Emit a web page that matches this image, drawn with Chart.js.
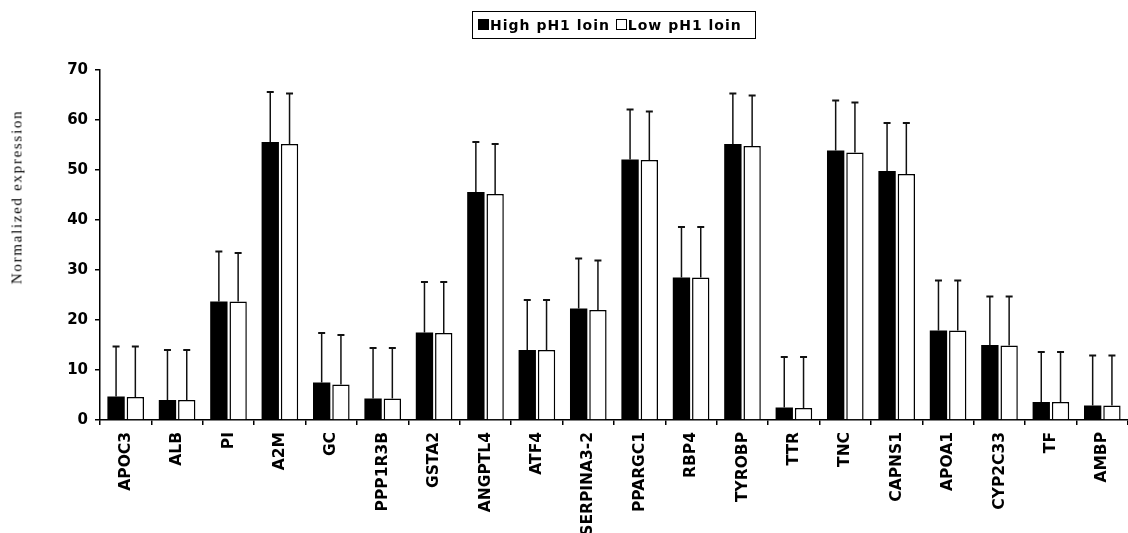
<!DOCTYPE html>
<html>
<head>
<meta charset="utf-8">
<script src="https://cdn.jsdelivr.net/npm/chart.js@4"></script>
<style>
  body { margin: 0; background: #fff; overflow: hidden; }
  #wrap { position: relative; width: 1128px; height: 533px; }
  #legend {
    position: absolute; left: 472px; top: 11px; width: 277px; height: 26px;
    border: 1.5px solid #000; font: bold 14px "DejaVu Sans", sans-serif; letter-spacing: 1px;
    line-height: 26px; white-space: nowrap; padding-left: 5px; box-sizing: content-box;
  }
  #legend .sw { display: inline-block; width: 9px; height: 9px; border: 1px solid #000; margin-right: 1px; }
  #ytitle {
    position: absolute; left: 17px; top: 197px; transform: translate(-50%, -50%) rotate(-90deg);
    font: 15px "Liberation Serif", "Times New Roman", serif; letter-spacing: 1.7px; white-space: nowrap; color: #000;
  }
</style>
</head>
<body>
<div id="wrap">
  <canvas id="chart" width="1128" height="533"></canvas>
  <div id="legend"><span class="sw" style="background:#000"></span>High pH1 loin&nbsp;<span class="sw" style="background:#fff"></span>Low pH1 loin</div>
  <div id="ytitle">Normalized expression</div>
</div>
<script>
const genes = ['APOC3', 'ALB', 'PI', 'A2M', 'GC', 'PPP1R3B', 'GSTA2', 'ANGPTL4', 'ATF4', 'SERPINA3-2',
  'PPARGC1', 'RBP4', 'TYROBP', 'TTR', 'TNC', 'CAPNS1', 'APOA1', 'CYP2C33', 'TF', 'AMBP'];
const highPH = [4.7, 4.0, 23.7, 55.6, 7.5, 4.3, 17.5, 45.6, 14.0, 22.3, 52.1, 28.5, 55.2, 2.5, 53.9, 49.8, 17.9, 15.0, 3.6, 2.9];
const highErr = [10, 10, 10, 10, 9.9, 10.1, 10.1, 10, 10, 10, 10, 10.1, 10.1, 10.1, 10, 9.6, 10, 9.7, 10, 10];
const lowPH = [4.6, 4.0, 23.7, 55.2, 7.1, 4.3, 17.4, 45.2, 14.0, 22.0, 52.0, 28.5, 54.8, 2.4, 53.5, 49.2, 17.9, 14.9, 3.6, 2.9];
const lowErr = [10.1, 10, 9.7, 10.1, 9.9, 10.1, 10.2, 10, 10, 9.9, 9.7, 10.1, 10.1, 10.2, 10, 10.2, 10, 9.8, 10, 10];
const yTicks = [0, 10, 20, 30, 40, 50, 60, 70];

const errs = [highErr, lowErr];

// error bars (upper half only) drawn through the y scale
const errorBars = {
  id: 'errorBars',
  afterDatasetsDraw(chart) {
    const ctx = chart.ctx;
    const y = chart.scales.y;
    ctx.save();
    ctx.strokeStyle = '#111';
    chart.data.datasets.forEach((ds, i) => {
      chart.getDatasetMeta(i).data.forEach((bar, j) => {
        const top = y.getPixelForValue(ds.data[j] + errs[i][j]);
        ctx.lineWidth = 1.5;
        ctx.beginPath();
        ctx.moveTo(bar.x, bar.y);
        ctx.lineTo(bar.x, top);
        ctx.stroke();
        ctx.lineWidth = 2;
        ctx.beginPath();
        ctx.moveTo(bar.x - 3.5, top);
        ctx.lineTo(bar.x + 3.5, top);
        ctx.stroke();
      });
    });
    ctx.restore();
  }
};

new Chart(document.getElementById('chart'), {
  type: 'bar',
  data: {
    labels: genes,
    datasets: [
      { label: 'High pH1 loin', data: highPH, backgroundColor: '#000', borderColor: '#000', borderWidth: 0 },
      { label: 'Low pH1 loin', data: lowPH, backgroundColor: '#fff', borderColor: '#000', borderWidth: 1.5 }
    ]
  },
  options: {
    responsive: false,
    animation: false,
    layout: { padding: { top: 70, right: 0, left: 0, bottom: 0 } },
    datasets: { bar: { categoryPercentage: 0.75, barPercentage: 0.9 } },
    plugins: { legend: { display: false }, tooltip: { enabled: false } },
    scales: {
      x: {
        afterFit: s => { s.height = 113; },
        border: { color: '#000', width: 1.5 },
        grid: { drawOnChartArea: false, color: '#000', tickLength: 5, lineWidth: 1.5 },
        ticks: {
          autoSkip: false, minRotation: 90, maxRotation: 90, padding: 7, color: '#000',
          font: { family: 'DejaVu Sans', weight: 'bold', size: 15.5 }
        }
      },
      y: {
        min: 0, max: 70,
        afterFit: s => { s.width = 100; },
        afterBuildTicks: s => { s.ticks = yTicks.map(v => ({ value: v })); },
        border: { color: '#000', width: 1.5 },
        grid: { drawOnChartArea: false, color: '#000', tickLength: 5, lineWidth: 1.5 },
        ticks: { padding: 7, color: '#000', font: { family: 'DejaVu Sans', weight: 'bold', size: 15 } }
      }
    }
  },
  plugins: [errorBars]
});
</script>
</body>
</html>
